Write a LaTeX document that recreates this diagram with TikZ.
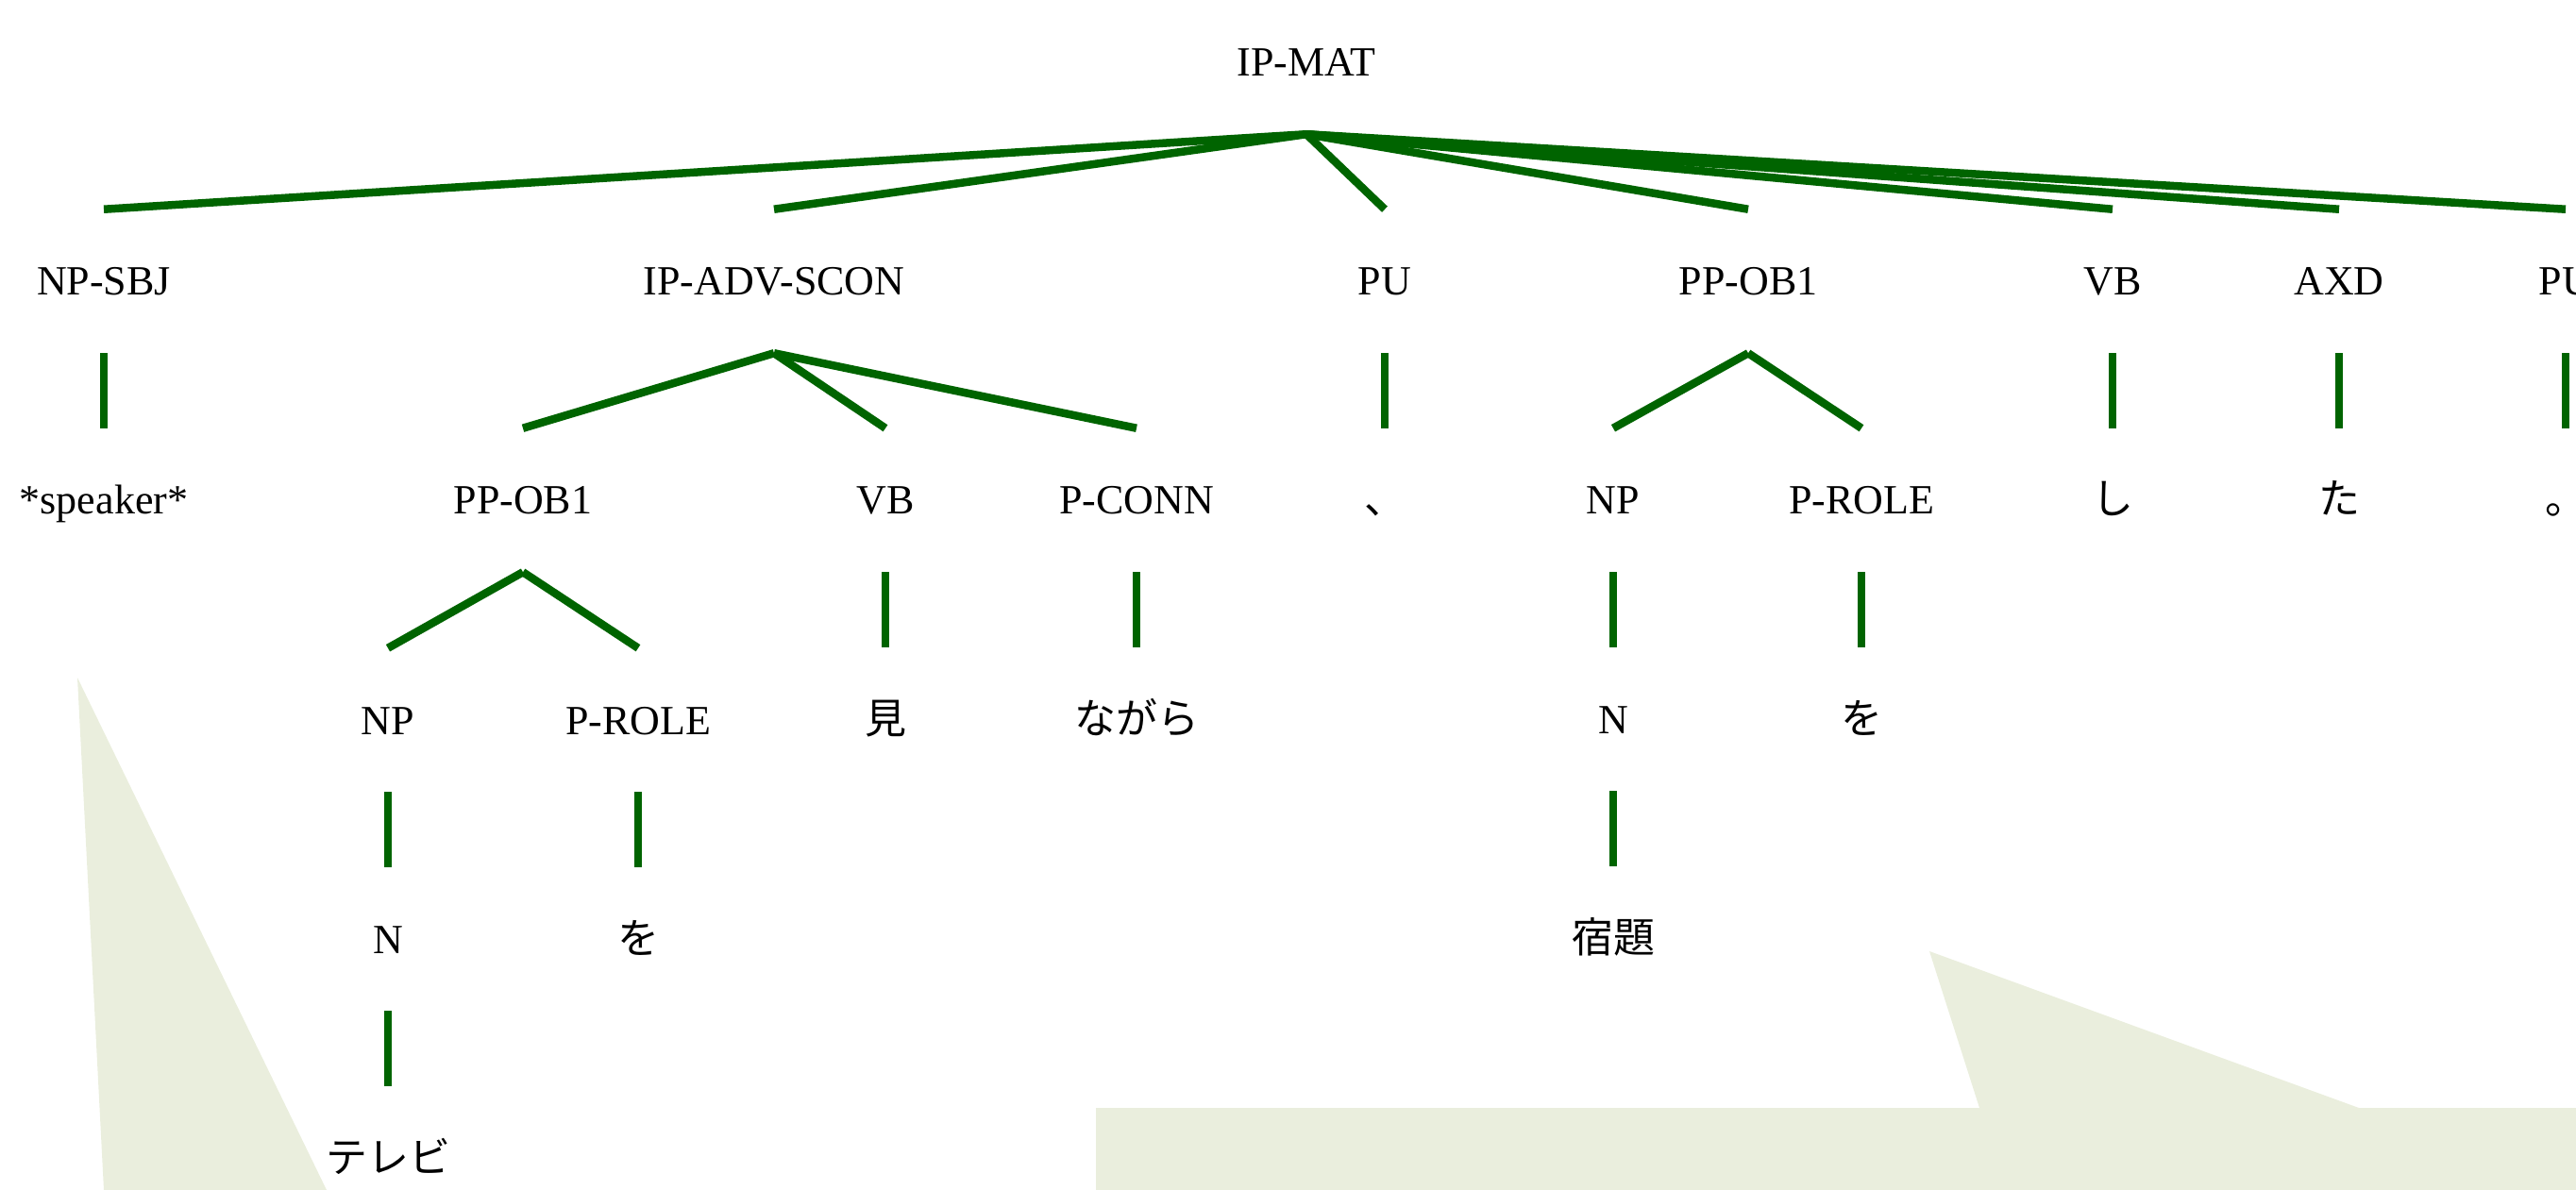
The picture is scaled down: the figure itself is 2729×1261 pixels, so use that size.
\documentclass[tikz,border=0pt]{standalone}
\usepackage{fontspec}
\setmainfont{Liberation Serif}
\newfontfamily\jp{Noto Sans CJK JP}
\usepackage{tikz}
\usetikzlibrary{positioning}

\definecolor{treegreen}{RGB}{0,100,0}
\definecolor{balloon}{RGB}{234,238,221}

\begin{document}
\begin{tikzpicture}[x=0.5pt,y=-0.5pt,node distance=116pt,
                line width=4.25pt]
        \tikzstyle{every node}=[font=\fontsize{22}{26}\selectfont,inner sep=0pt,
                text height=15pt,text depth=0pt,minimum height=72pt]
        \tikzstyle{branch}=[draw=treegreen]

        \useasboundingbox (0,0) rectangle (2729,1261);

        % speech balloons behind the tree
        \fill[balloon] (82,718) -- (110,1261) -- (346,1261) -- cycle;
        \fill[balloon] (1161,1174) -- (2097,1174) -- (2044,1008) -- (2499,1174)
                -- (2729,1174) -- (2729,1261) -- (1161,1261) -- cycle;

        \node (ipmat)  at (1384,66)  {IP-MAT};

        \node (npsbj)  at (110,298)  {NP-SBJ};
        \node (ipadv)  at (820,298)  {IP-ADV-SCON};
        \node (pu)     at (1467,298) {PU};
        \node (ppob)   at (1852,298) {PP-OB1};
        \node (vb)     at (2238,298) {VB};
        \node (axd)    at (2478,298) {AXD};
        \node (pub)    at (2718,298) {PU};

        \node (speaker) [below of=npsbj] {*speaker*};
        \node (ppobi)  at (554,530)  {PP-OB1};
        \node (vbi)    at (938,530)  {VB};
        \node (pconn)  at (1204,530) {P-CONN};
        \node (comma)  [below of=pu]   {\jp 、};
        \node (npb)    at (1709,530) {NP};
        \node (proleb) at (1972,530) {P-ROLE};
        \node (shi)    [below of=vb]   {\jp し};
        \node (ta)     [below of=axd]  {\jp た};
        \node (maru)   [below of=pub]  {\jp 。};

        \node (npa)    at (411,763)  {NP};
        \node (prolea) at (676,763)  {P-ROLE};
        \node (mi)     [below of=vbi]    {\jp 見};
        \node (nagara) [below of=pconn]  {\jp ながら};
        \node (nb)     [below of=npb]    {N};
        \node (wob)    [below of=proleb] {\jp を};

        \node (na)     [below of=npa]    {N};
        \node (woa)    [below of=prolea] {\jp を};
        \node (shukudai) [below of=nb]   {\jp 宿題};

        \node (terebi) [below of=na]     {\jp テレビ};

        \begin{scope}[branch]
        \draw (ipmat.south) edge (npsbj.north) edge (ipadv.north) edge (pu.north)
                edge (ppob.north) edge (vb.north) edge (axd.north) edge (pub.north);

        \draw (npsbj.south) -- (speaker.north);
        \draw (ipadv.south) edge (ppobi.north) edge (vbi.north) edge (pconn.north);
        \draw (pu.south) -- (comma.north);
        \draw (ppob.south) edge (npb.north) edge (proleb.north);
        \draw (vb.south) -- (shi.north);
        \draw (axd.south) -- (ta.north);
        \draw (pub.south) -- (maru.north);

        \draw (ppobi.south) edge (npa.north) edge (prolea.north);
        \draw (vbi.south) -- (mi.north);
        \draw (pconn.south) -- (nagara.north);
        \draw (npb.south) -- (nb.north);
        \draw (proleb.south) -- (wob.north);

        \draw (npa.south) -- (na.north);
        \draw (prolea.south) -- (woa.north);
        \draw (nb.south) -- (shukudai.north);

        \draw (na.south) -- (terebi.north);
        \end{scope}

\end{tikzpicture}
\end{document}
